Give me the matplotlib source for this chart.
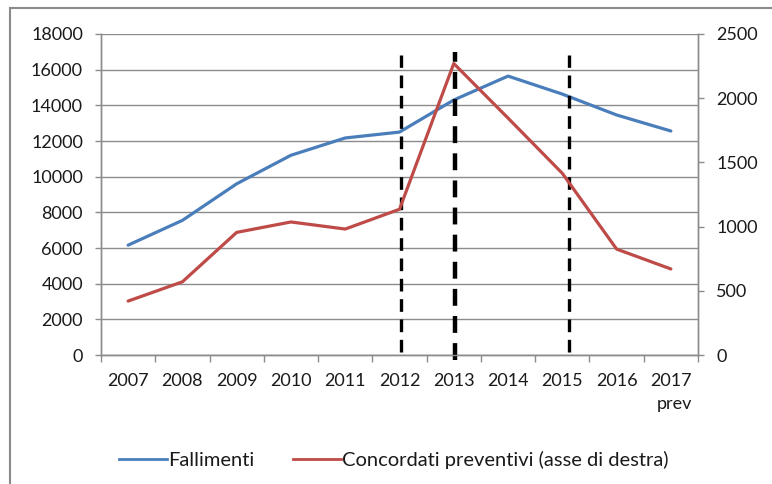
import matplotlib
matplotlib.use("Agg")
import matplotlib.pyplot as plt
from matplotlib.patches import Rectangle
from matplotlib.lines import Line2D

plt.rcParams['font.family'] = ['Lato', 'DejaVu Sans']

years = ['2007', '2008', '2009', '2010', '2011', '2012', '2013', '2014', '2015', '2016', '2017\nprev']
fallimenti = [6160, 7550, 9600, 11200, 12170, 12500, 14300, 15640, 14630, 13460, 12560]
concordati = [420, 570, 955, 1036, 981, 1135, 2270, 1845, 1415, 825, 670]

# reference dates marked with dashed vertical lines (category positions)
markers = [5.03, 6.02, 8.12]
marker_widths = [2.4, 3.2, 2.4]

left_ticks = list(range(0, 18001, 2000))
right_ticks = list(range(0, 2501, 500))

blue = '#4A7EBB'
red = '#BE4B48'
grid_col = '#8C8C8C'
text_col = '#1A1A1A'

W, H = 772, 484
fig = plt.figure(figsize=(W / 100, H / 100), dpi=100)
ax = fig.add_axes([101 / W, 1 - 355 / H, (698 - 101) / W, (355 - 34) / H])
ax2 = ax.twinx()

x = list(range(len(years)))
ax.plot(x, fallimenti, color=blue, lw=2.3, solid_capstyle='round', zorder=3)
ax2.plot(x, concordati, color=red, lw=2.3, solid_capstyle='round', zorder=3)

ax.set_xlim(-0.5, len(years) - 0.5)
ax.set_ylim(0, 18000)
ax2.set_ylim(0, 2500)

ax.set_yticks(left_ticks)
ax.set_yticklabels([str(v) for v in left_ticks])
ax2.set_yticks(right_ticks)
ax2.set_yticklabels([str(v) for v in right_ticks])

ax.set_xticks(x)
ax.set_xticklabels(years)
for lab in ax.get_xticklabels():
    lab.set_multialignment('right')
    lab.set_verticalalignment('top')
    lab.set_linespacing(1.55)
ax.set_xticks([i - 0.5 for i in range(len(years) + 1)], minor=True)
ax.tick_params(axis='x', which='major', length=0, pad=13, labelsize=13, colors=text_col)
ax.tick_params(axis='x', which='minor', length=5, width=1, color=grid_col)
ax.tick_params(axis='y', length=4.5, width=1, color=grid_col, pad=8.5, labelsize=13, labelcolor=text_col)
ax2.tick_params(axis='y', length=4.5, width=1, color=grid_col, pad=8.5, labelsize=13, labelcolor=text_col)

ax.grid(axis='y', color=grid_col, lw=1)
ax.set_axisbelow(True)
for a in (ax, ax2):
    a.spines['top'].set_visible(False)
    for s in ('left', 'right', 'bottom'):
        a.spines[s].set_color(grid_col)
        a.spines[s].set_linewidth(1)

# dashed vertical markers
for m, w in zip(markers, marker_widths):
    top = 16990 if w > 3 else 16820
    bot = -280 if w > 3 else 170
    ax.plot([m, m], [bot, top], color='black', lw=w, ls=(0, (3.8, 2.3)), zorder=4, clip_on=False)

# chart frame
fig.patches.append(Rectangle((10 / W, -0.1), 1.2, 1 - 8 / H + 0.1, transform=fig.transFigure,
                             fill=False, edgecolor='#8A8A8A', lw=1.5))

handles = [Line2D([], [], color=blue, lw=2.0), Line2D([], [], color=red, lw=2.0)]
fig.legend(handles, ['Fallimenti', 'Concordati preventivi (asse di destra)'],
           loc='center', bbox_to_anchor=(394 / W, 1 - 460 / H), ncol=2, frameon=False,
           fontsize=14.5, handlelength=2.4, handletextpad=0.05, columnspacing=1.9,
           labelcolor=text_col)

fig.savefig('out.png', dpi=100)
